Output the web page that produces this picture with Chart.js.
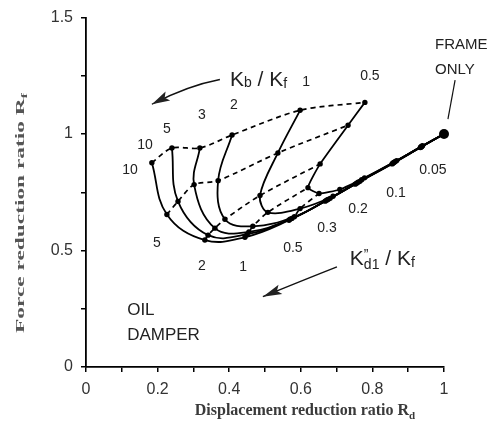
<!DOCTYPE html>
<html>
<head>
<meta charset="utf-8">
<script src="https://cdn.jsdelivr.net/npm/chart.js@4.4.1/dist/chart.umd.min.js"></script>
<style>
  html, body { margin: 0; padding: 0; background: #fff; }
  #wrap { width: 495px; height: 442px; }
</style>
</head>
<body>
<div id="wrap"><canvas id="chart" width="495" height="442"></canvas></div>
<script>
// ===== DATI =====
// Kb/Kf di ogni curva continua, K"d1/Kf di ogni punto lungo la curva
const kbValues = [10, 5, 3, 2, 1, 0.5];
const kdValues = [10, 5, 2, 1, 0.5, 0.3, 0.2, 0.1, 0.05, 0];

// Rd (x) e Rf (y) per ogni Kb/Kf
const rdKb10 = [0.184, 0.226, 0.332, 0.444, 0.567, 0.668, 0.752, 0.855, 0.934, 1];
const rfKb10 = [0.877, 0.655, 0.545, 0.557, 0.630, 0.712, 0.785, 0.872, 0.942, 1];
const rdKb5 = [0.240, 0.257, 0.341, 0.450, 0.570, 0.672, 0.756, 0.857, 0.935, 1];
const rfKb5 = [0.940, 0.711, 0.566, 0.570, 0.634, 0.716, 0.789, 0.875, 0.944, 1];
const rdKb3 = [0.318, 0.302, 0.360, 0.455, 0.575, 0.676, 0.760, 0.859, 0.936, 1];
const rfKb3 = [0.940, 0.783, 0.596, 0.580, 0.638, 0.719, 0.793, 0.877, 0.945, 1];
const rdKb2 = [0.408, 0.369, 0.388, 0.466, 0.582, 0.682, 0.765, 0.861, 0.937, 1];
const rfKb2 = [0.996, 0.800, 0.634, 0.604, 0.645, 0.724, 0.797, 0.879, 0.946, 1];
const rdKb1 = [0.598, 0.536, 0.486, 0.508, 0.598, 0.690, 0.770, 0.864, 0.938, 1];
const rfKb1 = [1.102, 0.919, 0.736, 0.664, 0.680, 0.733, 0.804, 0.882, 0.948, 1];
const rdKb05 = [0.779, 0.732, 0.654, 0.620, 0.651, 0.709, 0.778, 0.868, 0.940, 1];
const rfKb05 = [1.136, 1.038, 0.872, 0.770, 0.745, 0.762, 0.812, 0.886, 0.950, 1];

// solo telaio
const frameRd = [1];
const frameRf = [1];

// linee tratteggiate a K"d1/Kf costante
const dashedKd = [10, 5, 2, 1, 0.5];

// tick
const xTickLabels = ["0", "0.2", "0.4", "0.6", "0.8", "1"];
const yTickLabels = ["0", "0.5", "1", "1.5"];

// ===== COSTRUZIONE DATASET =====
const curves = [
  { rd: rdKb10, rf: rfKb10, tension: 0.4 },
  { rd: rdKb5, rf: rfKb5, tension: 0.4 },
  { rd: rdKb3, rf: rfKb3, tension: 0.4 },
  { rd: rdKb2, rf: rfKb2, tension: 0.4 },
  { rd: rdKb1, rf: rfKb1, tension: 0.35 },
  { rd: rdKb05, rf: rfKb05, tension: 0.15 },
];

const datasets = [];

// tratteggiate (sotto)
dashedKd.forEach((kd) => {
  const i = kdValues.indexOf(kd);
  datasets.push({
    data: curves.map((c) => ({ x: c.rd[i], y: c.rf[i] })),
    borderColor: "#000",
    borderWidth: 1.7,
    borderDash: [5, 4],
    pointRadius: 0,
    tension: 0.3,
    showLine: true,
    clip: false,
  });
});

// curve continue
curves.forEach((c) => {
  datasets.push({
    data: c.rd.map((v, i) => ({ x: v, y: c.rf[i] })),
    borderColor: "#000",
    borderWidth: 1.8,
    pointRadius: 2.7,
    pointBackgroundColor: "#000",
    pointBorderWidth: 0,
    tension: c.tension,
    showLine: true,
    clip: false,
  });
});

// FRAME ONLY
datasets.push({
  data: frameRd.map((v, i) => ({ x: v, y: frameRf[i] })),
  pointRadius: 5,
  pointBackgroundColor: "#000",
  pointBorderWidth: 0,
  showLine: false,
  clip: false,
});

// ===== TESTI E FRECCE =====
function drawRich(ctx, parts, x, y, align) {
  // parts: [testo, dimensione, spostamento verticale, avanza?]
  let total = 0;
  parts.forEach((p) => {
    ctx.font = `${p[1]}px "Liberation Sans", Arial, sans-serif`;
    total += p[3] === false ? 0 : ctx.measureText(p[0]).width;
  });
  let cx = align === "center" ? x - total / 2 : x;
  ctx.textAlign = "left";
  ctx.textBaseline = "alphabetic";
  parts.forEach((p) => {
    ctx.font = `${p[1]}px "Liberation Sans", Arial, sans-serif`;
    ctx.fillText(p[0], cx, y + p[2]);
    if (p[3] !== false) cx += ctx.measureText(p[0]).width;
  });
}

function drawArrow(ctx, x0, y0, cx, cy, x1, y1, len, half) {
  ctx.beginPath();
  ctx.moveTo(x0, y0);
  ctx.quadraticCurveTo(cx, cy, x1, y1);
  ctx.lineWidth = 1.4;
  ctx.stroke();
  const ang = Math.atan2(y1 - cy, x1 - cx);
  ctx.beginPath();
  ctx.moveTo(x1, y1);
  ctx.lineTo(x1 - len * Math.cos(ang) + half * Math.sin(ang), y1 - len * Math.sin(ang) - half * Math.cos(ang));
  ctx.lineTo(x1 - len * Math.cos(ang) * 0.8, y1 - len * Math.sin(ang) * 0.8);
  ctx.lineTo(x1 - len * Math.cos(ang) - half * Math.sin(ang), y1 - len * Math.sin(ang) + half * Math.cos(ang));
  ctx.closePath();
  ctx.fill();
}

const annotationsPlugin = {
  id: "annotations",
  afterDraw(chart) {
    const { ctx, scales: { x, y } } = chart;
    const px = (v) => x.getPixelForValue(v);
    const py = (v) => y.getPixelForValue(v);
    ctx.save();
    ctx.fillStyle = "#222";
    ctx.strokeStyle = "#111";

    // etichette numeriche (centro)
    const nums = [
      ["1", 0.615, 1.221], ["0.5", 0.793, 1.247], ["2", 0.413, 1.123],
      ["3", 0.324, 1.081], ["5", 0.226, 1.021], ["10", 0.165, 0.953],
      ["10", 0.123, 0.847], ["5", 0.198, 0.532], ["2", 0.324, 0.434],
      ["1", 0.439, 0.430], ["0.5", 0.578, 0.511], ["0.3", 0.673, 0.596],
      ["0.2", 0.760, 0.677], ["0.1", 0.866, 0.745], ["0.05", 0.969, 0.847],
    ];
    ctx.font = '14px "Liberation Sans", Arial, sans-serif';
    ctx.textAlign = "center";
    ctx.textBaseline = "middle";
    nums.forEach((n) => ctx.fillText(n[0], px(n[1]), py(n[2])));

    // FRAME ONLY
    ctx.font = '15px "Liberation Sans", Arial, sans-serif';
    ctx.textAlign = "left";
    ctx.fillText("FRAME", px(0.975), py(1.384));
    ctx.fillText("ONLY", px(0.975), py(1.277));
    ctx.beginPath();
    ctx.moveTo(px(1.031), py(1.232));
    ctx.lineTo(px(1.011), py(1.064));
    ctx.lineWidth = 1.2;
    ctx.stroke();

    // OIL DAMPER
    ctx.font = '17px "Liberation Sans", Arial, sans-serif';
    ctx.fillText("OIL", px(0.115), py(0.243));
    ctx.fillText("DAMPER", px(0.115), py(0.136));

    // Kb / Kf
    drawRich(ctx, [["K", 21, 0], ["b", 14, 1], [" / K", 21, 0], ["f", 14, 2]],
      px(0.402), py(1.238) + 7, "left");
    drawArrow(ctx, px(0.374), py(1.234), px(0.285), py(1.208), px(0.184), py(1.128), 18, 5);

    // K"d1 / Kf
    drawRich(ctx, [["K", 21, 0], ["\u201d", 14, -6, false], ["d1", 14, 4], [" / K", 21, 0], ["f", 14, 2]],
      px(0.737), py(0.468) + 7, "left");
    drawArrow(ctx, px(0.701), py(0.430), px(0.605), py(0.372), px(0.494), py(0.302), 19, 5);

    // titoli assi
    ctx.fillStyle = "#3a3a3a";
    ctx.font = 'bold 16px "Liberation Serif", "Times New Roman", serif';
    const xt = "Displacement reduction ratio R";
    const xw = ctx.measureText(xt).width;
    ctx.font = 'bold 11px "Liberation Serif", "Times New Roman", serif';
    const xs = ctx.measureText("d").width;
    const sx = 305 - (xw + xs) / 2;
    ctx.textAlign = "left";
    ctx.textBaseline = "alphabetic";
    ctx.font = 'bold 16px "Liberation Serif", "Times New Roman", serif';
    ctx.fillText(xt, sx, 415);
    ctx.font = 'bold 11px "Liberation Serif", "Times New Roman", serif';
    ctx.fillText("d", sx + xw, 419);

    ctx.save();
    ctx.translate(24, 213);
    ctx.rotate(-Math.PI / 2);
    ctx.fillStyle = "#555";
    ctx.font = 'bold 13px "Liberation Serif", "Times New Roman", serif';
    const yt = "Force reduction ratio R";
    const yw = ctx.measureText(yt).width;
    ctx.font = 'bold 9px "Liberation Serif", "Times New Roman", serif';
    const ys = ctx.measureText("f").width;
    const k = 240 / (yw + ys);
    ctx.scale(k, 1);
    ctx.font = 'bold 13px "Liberation Serif", "Times New Roman", serif';
    ctx.fillText(yt, -(yw + ys) / 2, 0);
    ctx.font = 'bold 9px "Liberation Serif", "Times New Roman", serif';
    ctx.fillText("f", -(yw + ys) / 2 + yw, 3);
    ctx.restore();

    ctx.restore();
  },
};

// ===== GRAFICO =====
const ctx = document.getElementById("chart").getContext("2d");
new Chart(ctx, {
  type: "scatter",
  data: { datasets },
  options: {
    responsive: false,
    animation: false,
    devicePixelRatio: 1,
    layout: { padding: { left: 0, right: 51, top: 15, bottom: 0 } },
    plugins: { legend: { display: false }, tooltip: { enabled: false } },
    scales: {
      x: {
        type: "linear",
        min: 0,
        max: 1,
        afterFit: (scale) => { scale.height = 75; },
        ticks: {
          stepSize: 0.1,
          autoSkip: false,
          maxRotation: 0,
          padding: 8,
          color: "#333",
          font: { size: 16, family: '"Liberation Sans", Arial, sans-serif' },
          callback: (v) => {
            const i = Math.round(v * 10);
            return i % 2 === 0 ? xTickLabels[i / 2] : "";
          },
        },
        grid: { display: true, drawOnChartArea: false, tickLength: 5, tickColor: "#000", lineWidth: 1.5 },
        border: { display: true, color: "#000", width: 1.8 },
      },
      y: {
        type: "linear",
        min: 0,
        max: 1.5,
        afterFit: (scale) => { scale.width = 86; },
        ticks: {
          stepSize: 0.25,
          autoSkip: false,
          padding: 8,
          color: "#333",
          font: { size: 16, family: '"Liberation Sans", Arial, sans-serif' },
          callback: (v) => {
            const i = Math.round(v * 4);
            return i % 2 === 0 ? yTickLabels[i / 2] : "";
          },
        },
        grid: { display: true, drawOnChartArea: false, tickLength: 5, tickColor: "#000", lineWidth: 1.5 },
        border: { display: true, color: "#000", width: 1.8 },
      },
    },
  },
  plugins: [annotationsPlugin],
});
</script>
</body>
</html>
